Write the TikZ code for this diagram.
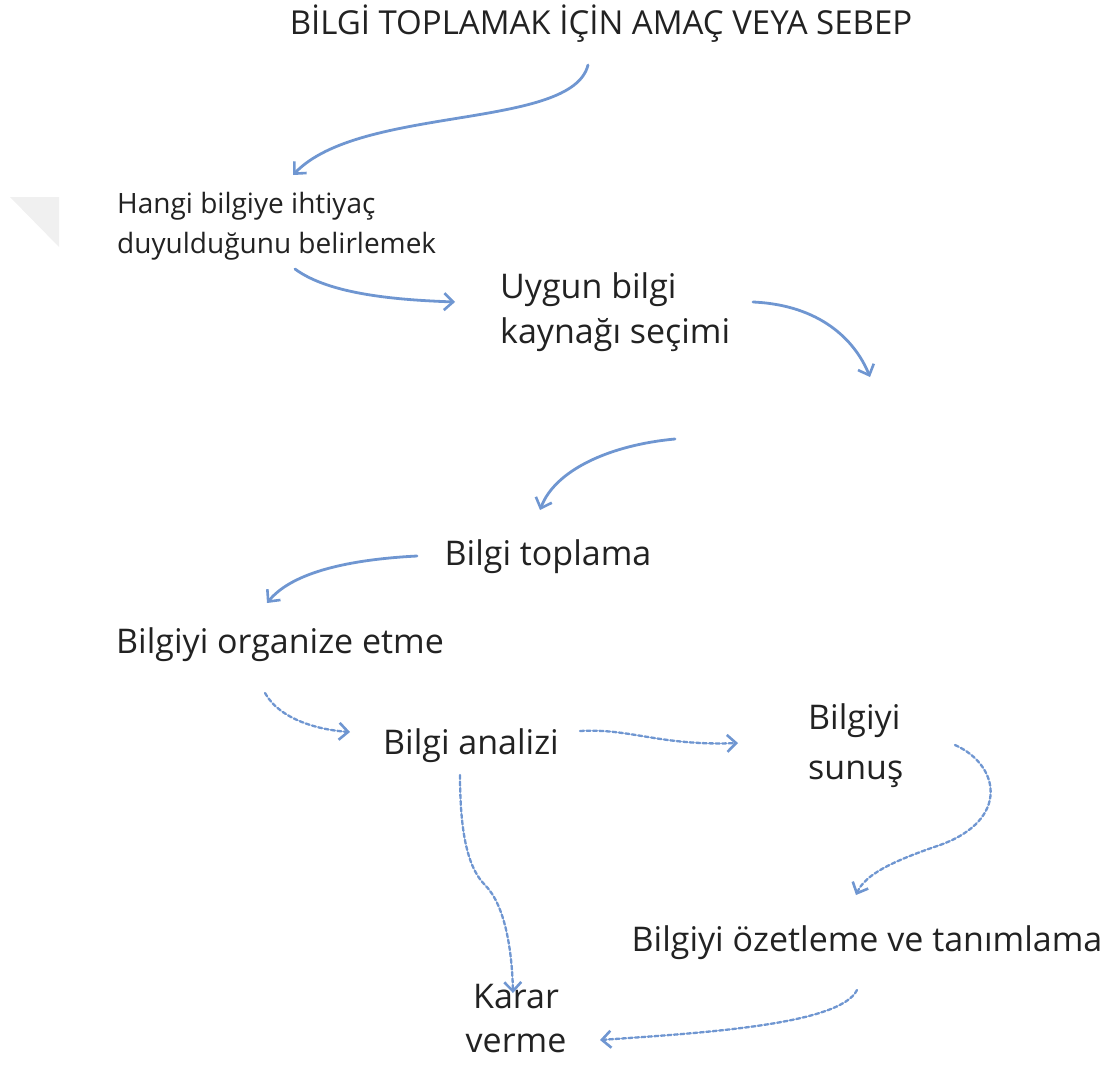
\documentclass[tikz,border=0pt]{standalone}
\usepackage{fontspec}
\setmainfont{Open Sans}
\usetikzlibrary{arrows.meta}
\definecolor{arr}{HTML}{6F96D1}
\definecolor{txt}{HTML}{222222}
\begin{document}
\begin{tikzpicture}[x=1pt,y=-1pt,
  lbl/.style={inner sep=0pt, text=txt, font=\fontsize{34}{45}\selectfont},
  small/.style={inner sep=0pt, text=txt, font=\fontsize{28}{40}\selectfont},
  con/.style={draw=arr, line width=2.8pt, line cap=round,
    -{Straight Barb[length=9pt,width=17pt,line width=2.6pt]}},
  dcon/.style={con, line width=2.3pt, dash pattern=on 4pt off 2.5pt}]
\useasboundingbox (0,0) rectangle (1108,1082);
\fill[gray!12] (10,197) -- (59,197) -- (59,247) -- cycle;

\node[lbl, font=\fontsize{33}{40}\selectfont] (title) at (601,24) {BİLGİ TOPLAMAK İÇİN AMAÇ VEYA SEBEP};
\node[small, anchor=west, align=left] (hangi) at (117,226) {Hangi bilgiye ihtiyaç\\duyulduğunu belirlemek};
\node[lbl, anchor=west, align=left] (uygun) at (500,312) {Uygun bilgi\\kaynağı seçimi};
\node[lbl] (toplama) at (548,557) {Bilgi toplama};
\node[lbl] (organize) at (280,645) {Bilgiyi organize etme};
\node[lbl] (analiz) at (471,746) {Bilgi analizi};
\node[lbl, anchor=west, align=left, font=\fontsize{34}{50}\selectfont] (sunus) at (808,746) {Bilgiyi\\sunuş};
\node[lbl] (ozet) at (867,943) {Bilgiyi özetleme ve tanımlama};
\node[lbl, align=center, font=\fontsize{34}{44}\selectfont] (karar) at (516,1019) {Karar\\verme};

\coordinate (a1s) at (588,65);  \coordinate (a1e) at (293,175);
\coordinate (a2s) at (295,269); \coordinate (a2e) at (455,302);
\coordinate (a3s) at (753,302); \coordinate (a3e) at (870,377);
\coordinate (a4s) at (675,439); \coordinate (a4e) at (540,510);
\coordinate (a5s) at (417,556); \coordinate (a5e) at (267,603);
\coordinate (d1s) at (265,693); \coordinate (d1e) at (350,732);
\coordinate (d2s) at (580,731); \coordinate (d2e) at (738,743);
\coordinate (d3s) at (955,745); \coordinate (d3m) at (940,845); \coordinate (d3e) at (856,895);
\coordinate (d4s) at (460,775); \coordinate (d4m) at (485,885); \coordinate (d4e) at (513,993);
\coordinate (d5s) at (857,990); \coordinate (d5e) at (600,1040);

\draw[con] (a1s) .. controls (572,130) and (360,105) .. (a1e);
\draw[con] (a2s) .. controls (330,295) and (400,300) .. (a2e);
\draw[con] (a3s) .. controls (820,305) and (855,340) .. (a3e);
\draw[con] (a4s) .. controls (610,445) and (555,470) .. (a4e);
\draw[con] (a5s) .. controls (340,560) and (290,575) .. (a5e);

\draw[dcon] (d1s) .. controls (280,720) and (320,730) .. (d1e);
\draw[dcon] (d2s) .. controls (630,728) and (660,746) .. (d2e);
\draw[dcon] (d3s) .. controls (1000,765) and (1010,820) .. (d3m) .. controls (890,862) and (865,875) .. (d3e);
\draw[dcon] (d4s) .. controls (460,840) and (470,870) .. (d4m) .. controls (505,905) and (512,950) .. (d4e);
\draw[dcon] (d5s) .. controls (840,1025) and (700,1033) .. (d5e);
\end{tikzpicture}
\end{document}
